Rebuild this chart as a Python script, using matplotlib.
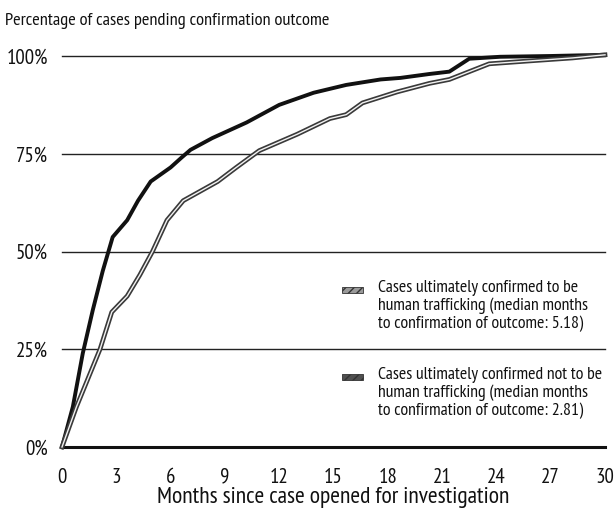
import matplotlib
matplotlib.use("Agg")
import matplotlib.pyplot as plt
import matplotlib.patheffects as pe
from matplotlib.patches import Rectangle

plt.rcParams['font.family'] = ['PT Sans Narrow', 'DejaVu Sans']

# Data
months_not_ht = [0, 0.6, 1.15, 1.7, 2.25, 2.8, 3.6, 4.2, 4.9, 6.0, 6.6, 7.1, 8.3,
                 10.2, 12.0, 13.9, 15.7, 17.6, 18.7, 20.3, 21.4, 22.5, 24.2, 27, 30]
pct_not_ht = [0, 10.3, 24, 35, 45, 53.7, 58, 63, 67.9, 71.5, 74, 76, 79,
              83, 87.5, 90.6, 92.6, 94, 94.4, 95.4, 96, 99.3, 99.8, 100, 100.3]

months_ht = [0, 0.8, 2.1, 2.75, 3.6, 4.3, 5.0, 5.8, 6.7, 8.6, 9.6, 10.9, 13.0,
             14.8, 15.7, 16.6, 18.5, 20.3, 21.4, 23.6, 25.7, 28.2, 30]
pct_ht = [0, 10.3, 25, 34.5, 38.6, 44, 50, 58, 63, 67.9, 71.4, 75.8, 80,
          84, 85, 88, 90.8, 93, 94, 98, 98.7, 99.5, 100.3]

x_ticks = [0, 3, 6, 9, 12, 15, 18, 21, 24, 27, 30]
y_ticks = [0, 25, 50, 75, 100]
y_tick_labels = ['0%', '25%', '50%', '75%', '100%']

label_ht = ("Cases ultimately confirmed to be\nhuman trafficking (median months\n"
            "to confirmation of outcome: 5.18)")
label_not = ("Cases ultimately confirmed not to be\nhuman trafficking (median months\n"
             "to confirmation of outcome: 2.81)")

W, H = 615, 509
X0, X1, Y0, Y1 = 62, 605, 447, 56
fig = plt.figure(figsize=(W / 100, H / 100), dpi=100)
ax = fig.add_axes([X0 / W, (H - Y0) / H, (X1 - X0) / W, (Y0 - Y1) / H])
ax.set_xlim(0, 30)
ax.set_ylim(0, 100)


def fx(px):
    return (px - X0) / (X1 - X0)


def fy(py):
    return (Y0 - py) / (Y0 - Y1)


for s in ['top', 'right', 'left']:
    ax.spines[s].set_visible(False)
ax.spines['bottom'].set_linewidth(2.2)
ax.spines['bottom'].set_color('#111111')

for yv in y_ticks[1:]:
    ax.axhline(yv, color='#222222', lw=1.0, zorder=1, clip_on=False)

ax.plot(months_not_ht, pct_not_ht, color='#111111', lw=2.8, zorder=3,
        clip_on=False, solid_capstyle='butt')
ax.plot(months_ht, pct_ht, color='#f2f2f2', lw=1.0, zorder=3, clip_on=False,
        path_effects=[pe.Stroke(linewidth=3.4, foreground='#3a3a3a'), pe.Normal()])

ax.set_xticks(x_ticks)
ax.set_xticklabels([str(v) for v in x_ticks])
ax.set_yticks(y_ticks)
ax.set_yticklabels(y_tick_labels)
ax.tick_params(axis='both', length=0, labelsize=15, colors='#111111')
ax.tick_params(axis='x', pad=15)
ax.tick_params(axis='y', pad=10)

ax.set_xlabel("Months since case opened for investigation", fontsize=17,
              color='#111111', labelpad=0)

fig.text(5 / W, 1 - 21 / H, "Percentage of cases pending confirmation outcome",
         fontsize=13.2, color='#111111', va='center', ha='left')

# legend (manual)
for sw_y, top_px, lab, fc in [(290, 280, label_ht, '#9a9a9a'),
                              (377, 367, label_not, '#505050')]:
    ax.add_patch(Rectangle((fx(342), fy(sw_y + 3)), fx(363) - fx(342), fy(sw_y - 3) - fy(sw_y + 3),
                           transform=ax.transAxes, facecolor=fc, edgecolor='#333333',
                           lw=0.6, hatch='////', zorder=4))
    ax.text(fx(378), fy(top_px), lab, transform=ax.transAxes, fontsize=12.8,
            va='top', ha='left', color='#111111', linespacing=1.12, zorder=4)

fig.savefig("out.png", dpi=100)
